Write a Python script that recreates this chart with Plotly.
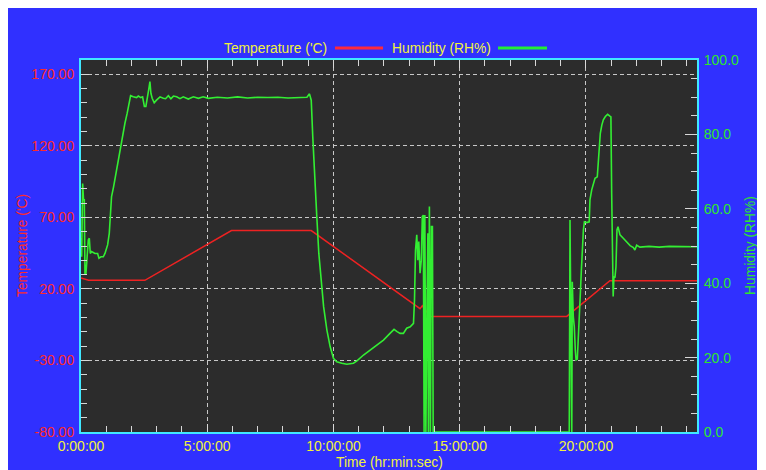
import plotly.graph_objects as go

# ---------------- data (hours, values) ----------------
temp_time = [0.0, 0.1, 0.3, 2.53, 5.96, 9.12, 13.17, 13.30, 13.43, 13.52, 13.67, 13.83,
             19.24, 20.95, 24.4]
temp_vals = [27.6, 27.2, 26.0, 26.0, 60.8, 60.8, 9.0, 7.8, 6.2, 8.2, 4.2, 0.8,
             0.8, 25.7, 25.7]

hum_time = [0.00, 0.025, 0.065, 0.10, 0.13, 0.157, 0.197, 0.236, 0.289, 0.329, 0.368, 0.42,
            0.553, 0.658, 0.711, 0.79, 0.883, 0.949, 1.054, 1.12, 1.173, 1.21, 1.29, 1.37,
            1.477, 1.58, 1.65, 1.74, 1.83, 1.90, 1.965, 2.07, 2.20, 2.27, 2.37, 2.44, 2.51,
            2.57, 2.62, 2.69, 2.73, 2.77, 2.82, 2.90, 2.99, 3.13, 3.26, 3.35, 3.46, 3.56,
            3.66, 3.79, 3.92, 4.05, 4.25, 4.45, 4.65, 4.84, 5.04, 5.4, 5.8, 6.2, 6.6, 7.0,
            7.4, 7.8, 8.2, 8.6, 8.95, 9.05, 9.12, 9.18, 9.25, 9.34, 9.42, 9.50, 9.61, 9.74,
            9.87, 10.0, 10.13, 10.33, 10.53, 10.79, 10.93, 11.19, 11.45, 11.72, 11.98, 12.24,
            12.4, 12.52, 12.64, 12.77, 12.9, 13.04, 13.17, 13.21, 13.25, 13.30, 13.34, 13.38,
            13.43, 13.48, 13.52, 13.56, 13.59, 13.62, 13.66, 13.71, 13.74, 13.76, 13.80,
            13.84, 13.88, 13.92, 13.95, 19.34, 19.37, 19.44, 19.46, 19.50, 19.54, 19.58,
            19.61, 19.66, 19.70, 19.74, 19.78, 19.82, 19.86, 19.90, 19.94, 20.03, 20.13,
            20.16, 20.23, 20.29, 20.36, 20.45, 20.49, 20.53, 20.57, 20.63, 20.69, 20.77,
            20.86, 20.95, 20.99, 21.02, 21.06, 21.08, 21.11, 21.15, 21.19, 21.23, 21.27,
            21.35, 21.48, 21.61, 21.75, 21.88, 21.94, 22.01, 22.14, 22.5, 22.9, 23.3, 23.7,
            24.0, 24.4]
hum_vals = [52.1, 47.1, 66.8, 62.4, 62.4, 42.7, 42.7, 46.2, 51.6, 52.1, 48.0, 48.5,
            48.0, 48.0, 46.7, 47.1, 47.1, 48.0, 50.3, 53.4, 57.9, 63.3, 65.9, 69.1,
            73.1, 76.7, 79.4, 83.0, 85.7, 88.8, 90.4, 90.1, 89.9, 90.3, 89.9, 90.1, 87.5,
            87.5, 90.1, 92.4, 94.2, 91.0, 89.7, 88.5, 89.2, 90.1, 89.7, 89.6, 90.4, 89.6,
            90.3, 90.1, 89.6, 90.1, 89.5, 90.1, 89.7, 90.1, 89.7, 90.0, 89.8, 90.1, 89.8, 90.0,
            89.9, 90.0, 89.8, 90.0, 90.0, 90.9, 89.2, 79.4, 68.6, 57.9, 48.0, 40.9, 33.7, 27.4,
            22.9, 19.8, 18.9, 18.5, 18.2, 18.5, 19.1, 20.7, 22.0, 23.4, 24.7, 26.5,
            27.6, 27.0, 26.5, 26.5, 27.9, 28.3, 29.2, 35.5, 48.9, 53.0, 46.2, 51.2,
            42.7, 46.2, 57.9, 58.3, 0.0, 58.3, 0.0, 35.5, 53.4, 0.0, 60.6,
            0.0, 55.2, 55.2, 0.0, 0.0, 57.0, 0.0, 40.4, 31.0, 28.3, 22.0,
            19.4, 19.6, 27.4, 30.1, 37.3, 43.5, 49.8, 54.3, 56.5, 56.3, 56.5,
            62.4, 65.1, 66.9, 68.2, 68.6, 73.1, 76.7, 80.3, 82.5, 83.9, 84.8,
            85.4, 84.9, 84.7, 64.2, 46.2, 36.4, 41.8, 41.5, 44.4, 54.3, 55.2,
            53.0, 52.1, 51.2, 50.1, 49.6, 48.9, 50.2, 49.7, 49.9, 49.7, 49.9, 49.8,
            49.9, 49.8]

x_tick_vals = [0, 5, 10, 15, 20]
x_tick_text = ["0:00:00", "5:00:00", "10:00:00", "15:00:00", "20:00:00"]
temp_tick_vals = [-80, -30, 20, 70, 120, 170]
temp_tick_text = ["-80.00", "-30.00", "20.00", "70.00", "120.00", "170.00"]
hum_tick_vals = [0, 20, 40, 60, 80, 100]
hum_tick_text = ["0.0", "20.0", "40.0", "60.0", "80.0", "100.0"]

# ---------------- layout geometry ----------------
# the page body adds an 8px margin; work in page pixels and convert
OFF = 8
W_FIG, H_FIG = 749, 462
L, R, T, B = 81, 697, 60, 432          # plot area in page pixels
PW, PH = R - L, B - T


def px(xp):
    return (xp - L) / PW


def py(yp):
    return (B - yp) / PH


FONT = "Liberation Sans, Arial, sans-serif"
TICK_SIZE = 14
TEXT_SIZE = 13.8
YELLOW = "#f2f23c"
RED = "#ff2a2a"
GREEN = "#2ee62e"
LINE_RED = "#ee2222"
LINE_GREEN = "#33ee33"
BLUE = "#3030ff"
DARK = "#2c2c2c"
TICKC = "#d8d8d8"
GRIDC = "#c8c8c8"
FRAME = "#40e8ff"

fig = go.Figure()
fig.add_trace(go.Scatter(x=temp_time, y=temp_vals, mode="lines", yaxis="y",
                         line=dict(color=LINE_RED, width=1.5), showlegend=False,
                         name="Temperature ('C)"))
fig.add_trace(go.Scatter(x=hum_time, y=hum_vals, mode="lines", yaxis="y2",
                         line=dict(color=LINE_GREEN, width=1.6), showlegend=False,
                         name="Humidity (RH%)"))

fig.update_layout(
    width=W_FIG, height=H_FIG,
    margin=dict(l=L - OFF, r=W_FIG + OFF - R, t=T - OFF, b=H_FIG + OFF - B, pad=0),
    paper_bgcolor=BLUE, plot_bgcolor=DARK,
    font=dict(family=FONT, size=13),
    showlegend=False,
    xaxis=dict(
        range=[0, 24.4], tickmode="array", tickvals=x_tick_vals, ticktext=x_tick_text,
        ticks="inside", ticklen=8, tickcolor=TICKC, tickwidth=1,
        showline=True, linecolor=FRAME, linewidth=2, mirror="ticks",
        showgrid=True, gridcolor=GRIDC, griddash="4px,3px", gridwidth=1,
        zeroline=False,
        tickfont=dict(color=YELLOW, size=TICK_SIZE, family=FONT),
        minor=dict(dtick=1, tick0=0, ticks="inside", ticklen=6, tickcolor=TICKC, showgrid=False),
    ),
    yaxis=dict(
        range=[-80, 180], tickmode="array", tickvals=temp_tick_vals, ticktext=temp_tick_text,
        ticks="inside", ticklen=8, tickcolor=TICKC,
        showline=True, linecolor=FRAME, linewidth=2, mirror=False,
        showgrid=True, gridcolor=GRIDC, griddash="4px,3px", gridwidth=1,
        zeroline=False, ticklabelstandoff=2,
        tickfont=dict(color=RED, size=TICK_SIZE, family=FONT),
        minor=dict(dtick=10, tick0=-80, ticks="inside", ticklen=6, tickcolor=TICKC, showgrid=False),
    ),
    yaxis2=dict(
        range=[0, 100], tickmode="array", tickvals=hum_tick_vals, ticktext=hum_tick_text,
        overlaying="y", side="right",
        ticks="inside", ticklen=12, tickcolor=TICKC,
        showline=True, linecolor=FRAME, linewidth=2,
        showgrid=False, zeroline=False, ticklabelstandoff=2,
        tickfont=dict(color=GREEN, size=TICK_SIZE, family=FONT),
        minor=dict(dtick=5, tick0=0, ticks="inside", ticklen=6, tickcolor=TICKC, showgrid=False),
    ),
)

shapes = [
    # legend line samples
    dict(type="line", xref="paper", yref="paper", x0=px(335), x1=px(383), y0=py(48), y1=py(48),
         line=dict(color="#ff2a3a", width=3)),
    dict(type="line", xref="paper", yref="paper", x0=px(498), x1=px(547), y0=py(48), y1=py(48),
         line=dict(color="#22ee33", width=3)),
]
fig.update_layout(shapes=shapes)

annotations = [
    dict(text="Temperature ('C)", xref="paper", yref="paper", x=px(329), y=py(48),
         xanchor="right", yanchor="middle", showarrow=False,
         font=dict(color=YELLOW, size=TEXT_SIZE, family=FONT)),
    dict(text="Humidity (RH%)", xref="paper", yref="paper", x=px(493), y=py(48),
         xanchor="right", yanchor="middle", showarrow=False,
         font=dict(color=YELLOW, size=TEXT_SIZE, family=FONT)),
    dict(text="Temperature ('C)", xref="paper", yref="paper", x=px(22), y=py(246),
         xanchor="center", yanchor="middle", textangle=-90, showarrow=False,
         font=dict(color=RED, size=TEXT_SIZE, family=FONT)),
    dict(text="Humidity (RH%)", xref="paper", yref="paper", x=px(750), y=py(246),
         xanchor="center", yanchor="middle", textangle=-90, showarrow=False,
         font=dict(color=GREEN, size=TEXT_SIZE, family=FONT)),
    dict(text="Time (hr:min:sec)", xref="paper", yref="paper", x=px(389), y=py(462),
         xanchor="center", yanchor="middle", showarrow=False,
         font=dict(color=YELLOW, size=TEXT_SIZE, family=FONT)),
]
fig.update_layout(annotations=annotations)

fig.write_html("out.html")
